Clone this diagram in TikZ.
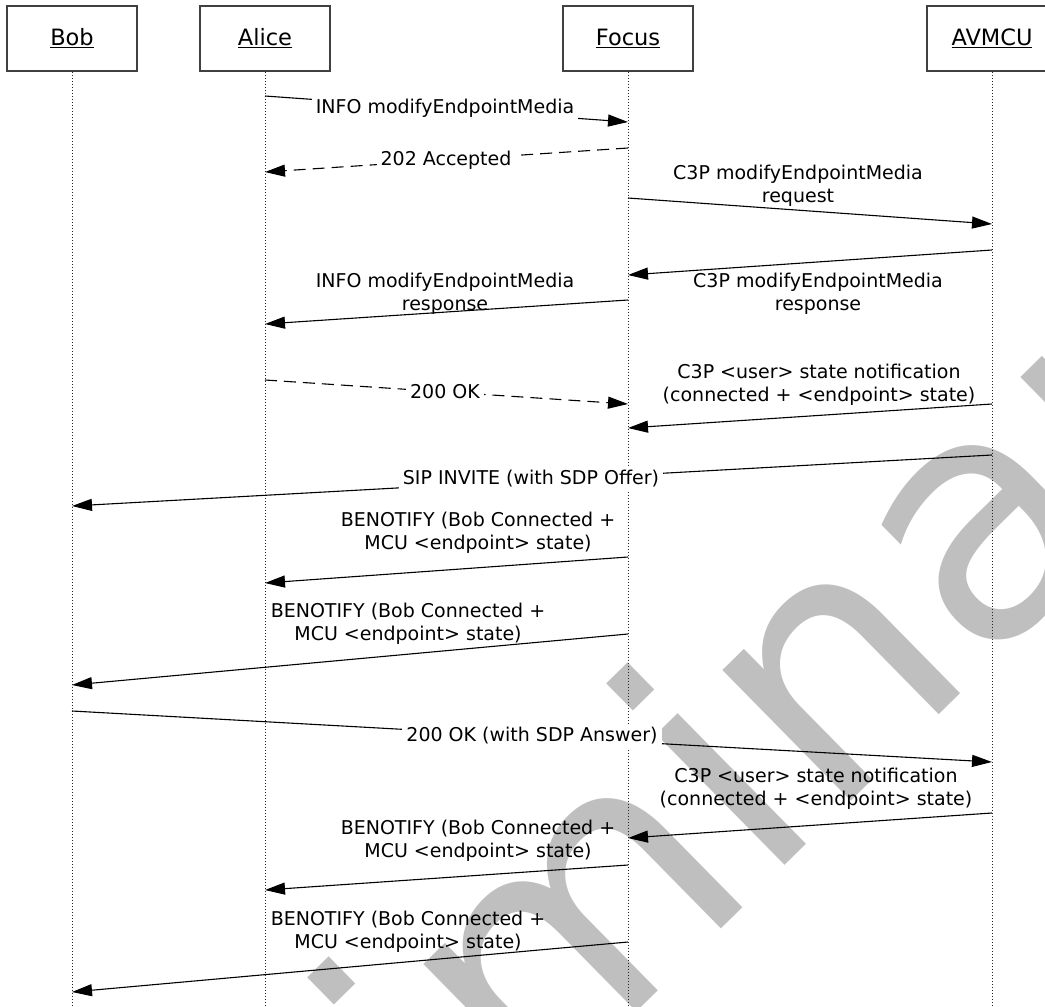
\documentclass[tikz,border=0pt]{standalone}
\usepackage{fontspec}
\setmainfont{DejaVu Sans}
\usetikzlibrary{arrows.meta}

\begin{document}
\begin{tikzpicture}[x=1pt, y=-1pt,
        actor/.style={draw=black!75, line width=1.2pt, fill=white, minimum width=130pt, minimum height=65pt, font=\fontsize{22.5}{27}\selectfont},
        life/.style={black!85, line width=1pt, dash pattern=on 1.5pt off 1.5pt},
        msg/.style={line width=1.1pt, -{Triangle[length=20pt, width=12pt]}},
        reply/.style={msg, dash pattern=on 12pt off 7pt},
        lbl/.style={font=\fontsize{19}{23}\selectfont, align=center, inner sep=0pt},
        lblw/.style={lbl, fill=white, inner sep=4pt}]
            \useasboundingbox (0,0) rectangle (1045,1007);

            \node[text=black!25, rotate=44.5, anchor=base, font=\fontsize{335}{335}\selectfont, inner sep=0pt] (W) at (692,957) {Preliminary};

            \node[actor] (Bob) at (72,38.5) {\underline{Bob}};
            \node[actor] (Alice) at (265,38.5) {\underline{Alice}};
            \node[actor] (Focus) at (628,38.5) {\underline{Focus}};
            \node[actor] (AVMCU) at (992,38.5) {\underline{AVMCU}};

            \coordinate (BobE) at (72,1010);
            \coordinate (AliceE) at (265,1010);
            \coordinate (FocusE) at (628,1010);
            \coordinate (AVMCUE) at (992,1010);

            \draw[life] (Bob) -- (BobE);
            \draw[life] (Alice) -- (AliceE);
            \draw[life] (Focus) -- (FocusE);
            \draw[life] (AVMCU) -- (AVMCUE);

            \coordinate (m1a) at (265,96);   \coordinate (m1b) at (628,122);
            \coordinate (m2a) at (628,148);  \coordinate (m2b) at (265,172);
            \coordinate (m3a) at (628,198);  \coordinate (m3b) at (992,224);
            \coordinate (m4a) at (992,250);  \coordinate (m4b) at (628,275);
            \coordinate (m5a) at (628,300);  \coordinate (m5b) at (265,324);
            \coordinate (m6a) at (265,380);  \coordinate (m6b) at (628,404);
            \coordinate (m7a) at (992,404);  \coordinate (m7b) at (628,428);
            \coordinate (m8a) at (992,455);  \coordinate (m8b) at (72,506);
            \coordinate (m9a) at (628,557);  \coordinate (m9b) at (265,583);
            \coordinate (m10a) at (628,634); \coordinate (m10b) at (72,685);
            \coordinate (m11a) at (72,711);  \coordinate (m11b) at (992,762);
            \coordinate (m12a) at (992,813); \coordinate (m12b) at (628,838);
            \coordinate (m13a) at (628,865); \coordinate (m13b) at (265,890);
            \coordinate (m14a) at (628,942); \coordinate (m14b) at (72,992);

            \draw[msg] (m1a) -- (m1b);
            \draw[reply] (m2a) -- (m2b);
            \draw[msg] (m3a) -- (m3b);
            \draw[msg] (m4a) -- (m4b);
            \draw[msg] (m5a) -- (m5b);
            \draw[reply] (m6a) -- (m6b);
            \draw[msg] (m7a) -- (m7b);
            \draw[msg] (m8a) -- (m8b);
            \draw[msg] (m9a) -- (m9b);
            \draw[msg] (m10a) -- (m10b);
            \draw[msg] (m11a) -- (m11b);
            \draw[msg] (m12a) -- (m12b);
            \draw[msg] (m13a) -- (m13b);
            \draw[msg] (m14a) -- (m14b);

            \node[lblw] (T1) at (445,108) {INFO modifyEndpointMedia};
            \node[lblw] (T2) at (446,160) {202 Accepted};
            \node[lbl] (T3) at (798,186) {C3P modifyEndpointMedia\\request};
            \node[lbl] (T4) at (818,294) {C3P modifyEndpointMedia\\response};
            \node[lbl] (T5) at (445,294) {INFO modifyEndpointMedia\\response};
            \node[lblw] (T6) at (445,392) {200 OK};
            \node[lbl] (T7) at (819,385) {C3P <user> state notification\\(connected + <endpoint> state)};
            \node[lblw] (T8) at (531,479) {SIP INVITE (with SDP Offer)};
            \node[lbl] (T9) at (478,533) {BENOTIFY (Bob Connected +\\MCU <endpoint> state)};
            \node[lbl] (T10) at (408,624) {BENOTIFY (Bob Connected +\\MCU <endpoint> state)};
            \node[lblw] (T11) at (532,736) {200 OK (with SDP Answer)};
            \node[lbl] (T12) at (816,789) {C3P <user> state notification\\(connected + <endpoint> state)};
            \node[lbl] (T13) at (478,841) {BENOTIFY (Bob Connected +\\MCU <endpoint> state)};
            \node[lbl] (T14) at (408,932) {BENOTIFY (Bob Connected +\\MCU <endpoint> state)};
        \end{tikzpicture}
\end{document}
